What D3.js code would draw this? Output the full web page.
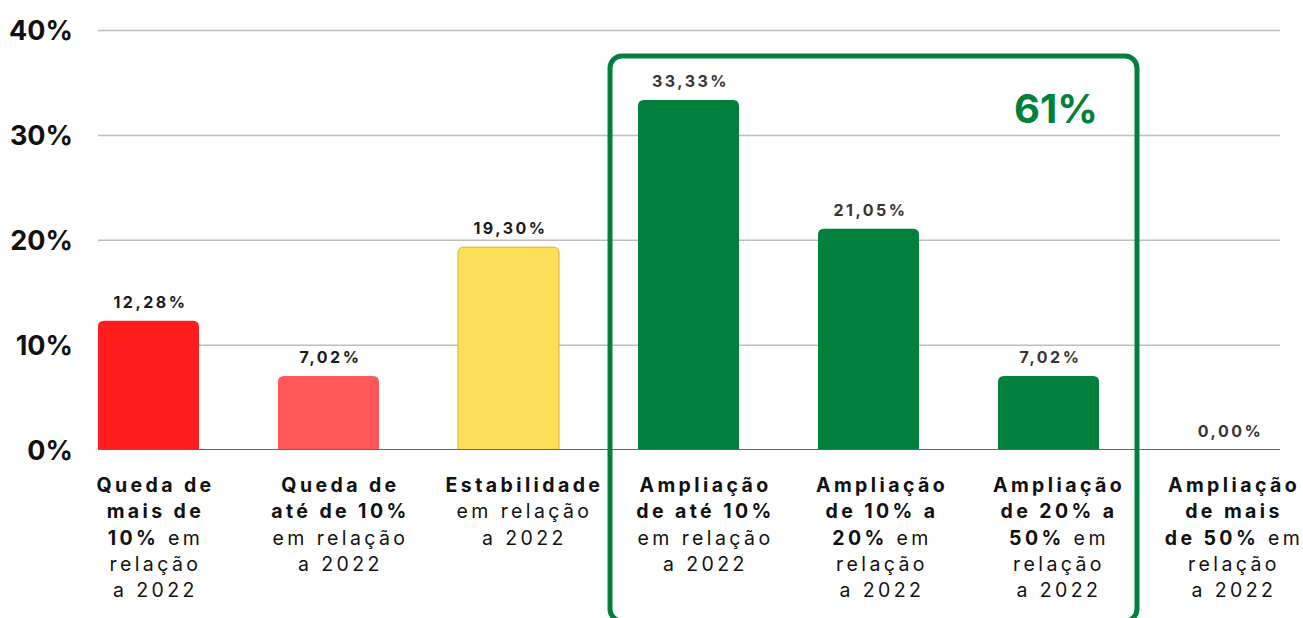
<!DOCTYPE html>
<html>
<head>
<meta charset="utf-8">
<script src="https://cdn.jsdelivr.net/npm/d3@7"></script>
<style>
    body { margin: 0; background: #fff; }
    text { font-family: "Inter", "Lato", sans-serif; }
</style>
</head>
<body>
<div id="chart"></div>
<script>
// data
const categories = ["c1", "c2", "c3", "c4", "c5", "c6", "c7"]
const values = [12.28, 7.02, 19.30, 33.33, 21.05, 7.02, 0.00]
const valueLabels = ["12,28%", "7,02%", "19,30%", "33,33%", "21,05%", "7,02%", "0,00%"]
const barColors = ["#ff1c1c", "#ff5757", "#ffde59", "#00803a", "#00803a", "#00803a", "#00803a"]
// each line: [bold part, normal part]
const categoryLines = [
    [["Queda de", ""], ["mais de", ""], ["10%", " em"], ["", "relação"], ["", "a 2022"]],
    [["Queda de", ""], ["até de 10%", ""], ["", "em relação"], ["", "a 2022"]],
    [["Estabilidade", ""], ["", "em relação"], ["", "a 2022"]],
    [["Ampliação", ""], ["de até 10%", ""], ["", "em relação"], ["", "a 2022"]],
    [["Ampliação", ""], ["de 10% a", ""], ["20%", " em"], ["", "relação"], ["", "a 2022"]],
    [["Ampliação", ""], ["de 20% a", ""], ["50%", " em"], ["", "relação"], ["", "a 2022"]],
    [["Ampliação", ""], ["de mais", ""], ["de 50%", " em"], ["", "relação"], ["", "a 2022"]],
]
const yTicks = [0, 10, 20, 30, 40]
const highlightGroup = ["c4", "c5", "c6"]
const highlightLabel = "61%"

const dimensions = {
    width: 1303,
    height: 618,
    margin: { top: 30, right: 23, bottom: 168, left: 98 },
}
dimensions.boundedWidth = dimensions.width - dimensions.margin.left - dimensions.margin.right
dimensions.boundedHeight = dimensions.height - dimensions.margin.top - dimensions.margin.bottom

// the text boxes under the bars are not quite centred on them
const labelNudge = [5.5, 10.5, 14.5, 15.5, 12, 9, 4]

const svg = d3.select("#chart")
    .append("svg")
    .attr("width", dimensions.width)
    .attr("height", dimensions.height)

const bounds = svg.append("g")
    .attr("transform", `translate(${dimensions.margin.left}, ${dimensions.margin.top})`)

const xScale = d3.scaleBand()
    .domain(categories)
    .range([0, 1181])
    .paddingInner(0.439)
    .paddingOuter(0)

const yScale = d3.scaleLinear()
    .domain([0, 40])
    .range([419.5, 0])

// gridlines
const grid = bounds.append("g")
    .call(d3.axisLeft(yScale).tickValues(yTicks.slice(1)).tickSize(-1182).tickFormat(""))
grid.select(".domain").remove()
grid.selectAll("line").attr("stroke", "#bdbdbd").attr("stroke-width", 1.5)

// y labels
const yAxis = bounds.append("g")
    .attr("transform", "translate(-22, 0)")
    .call(d3.axisLeft(yScale).tickValues(yTicks).tickSize(0).tickFormat(d => d + "%"))
yAxis.select(".domain").remove()
yAxis.selectAll("text")
    .attr("fill", "#111")
    .style("font-size", "27px")
    .style("font-weight", 700)
    .attr("dy", "0.36em")

// bars with rounded top
const r = 6
const barPath = d => {
    const x0 = xScale(d.cat), w = xScale.bandwidth()
    const y0 = yScale(d.value), y1 = yScale(0)
    if (y1 - y0 < 0.5) return ""
    return `M${x0},${y1}V${y0 + r}Q${x0},${y0} ${x0 + r},${y0}H${x0 + w - r}Q${x0 + w},${y0} ${x0 + w},${y0 + r}V${y1}Z`
}
const data = categories.map((c, i) => ({ cat: c, i: i, value: values[i], label: valueLabels[i], color: barColors[i], lines: categoryLines[i] }))

bounds.append("g").selectAll("path")
    .data(data)
    .join("path")
    .attr("d", barPath)
    .attr("fill", d => d.color)
    .attr("stroke", d => d.cat === "c3" ? "#c8b83c" : "none")
    .attr("stroke-width", 1)

// baseline
bounds.append("line")
    .attr("x1", 0).attr("x2", 1182)
    .attr("y1", yScale(0)).attr("y2", yScale(0))
    .attr("stroke", "#666").attr("stroke-width", 1)

// value labels
bounds.append("g").selectAll("text")
    .data(data)
    .join("text")
    .attr("x", d => xScale(d.cat) + xScale.bandwidth() / 2 + 2)
    .attr("y", d => yScale(d.value) - 13)
    .attr("text-anchor", "middle")
    .attr("fill", (d, i) => i < 3 ? "#1a1a1a" : "#3a3434")
    .style("font-size", "16px")
    .style("font-weight", 700)
    .style("letter-spacing", "2.5px")
    .text(d => d.label)

// category labels, one text per bar, one tspan per piece
const lineY = li => 462 + li * 26.3
const catX = d => xScale(d.cat) + xScale.bandwidth() / 2 + labelNudge[d.i] + 1.5

bounds.append("g").selectAll("text")
    .data(data)
    .join("text")
    .attr("text-anchor", "middle")
    .attr("fill", "#111")
    .style("font-size", "19.5px")
    .style("letter-spacing", "3.4px")
    .each(function (d) {
        const t = d3.select(this)
        d.lines.forEach((line, li) => {
            let first = true
            line.forEach((part, pi) => {
                if (!part) return
                const sp = t.append("tspan")
                    .style("font-weight", pi === 0 ? 700 : 400)
                    .text(part)
                if (first) sp.attr("x", catX(d)).attr("y", lineY(li))
                first = false
            })
        })
    })

// highlight box
const boxLeft = xScale(highlightGroup[0]) - 28
const boxRight = xScale(highlightGroup[highlightGroup.length - 1]) + xScale.bandwidth() + 38
bounds.append("rect")
    .attr("x", boxLeft)
    .attr("y", 26)
    .attr("width", boxRight - boxLeft)
    .attr("height", 565)
    .attr("rx", 12)
    .attr("fill", "none")
    .attr("stroke", "#00803a")
    .attr("stroke-width", 5)

bounds.append("text")
    .attr("x", boxRight - 81)
    .attr("y", 93)
    .attr("text-anchor", "middle")
    .attr("fill", "#00803a")
    .style("font-size", "40px")
    .style("font-weight", 700)
    .text(highlightLabel)
</script>
</body>
</html>
